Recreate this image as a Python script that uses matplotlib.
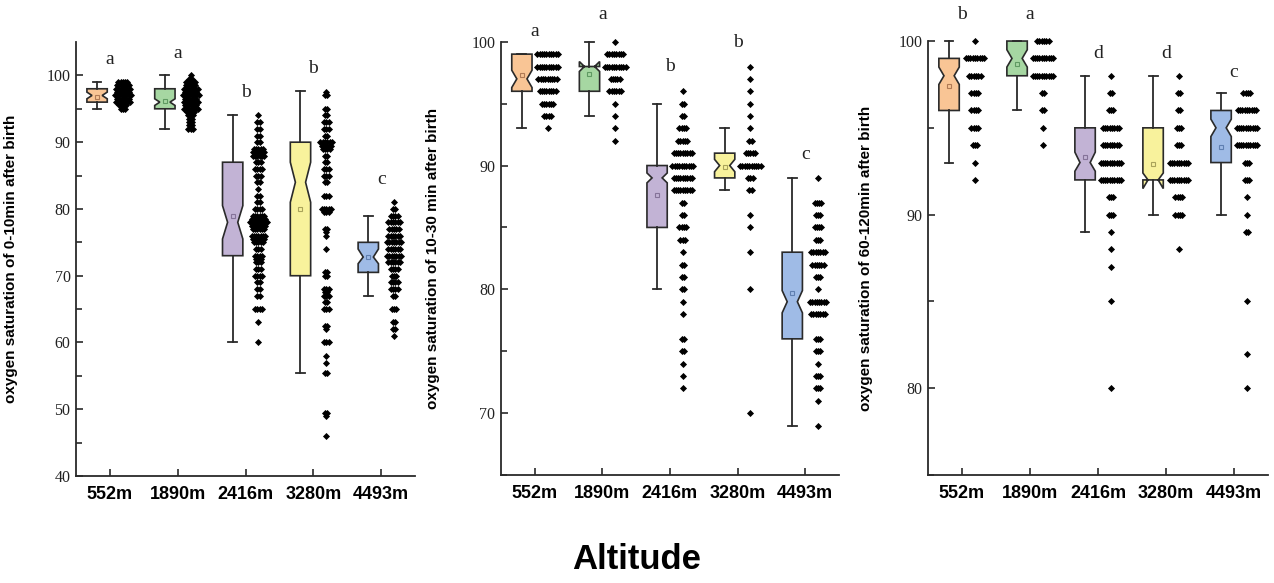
import matplotlib.pyplot as plt
import numpy as np

sites = ["552m", "1890m", "2416m", "3280m", "4493m"]
box_colors = ["#F9C595", "#A6D7A2", "#C2B3D5", "#F8F29C", "#9FBBE6"]
mean_colors = ["#b07a55", "#5f9a62", "#857399", "#a9a35a", "#5f7fb0"]

# ---- panel 1: 0-10 min ----
ylab1 = "oxygen saturation of 0-10min after birth"
med1 = [97, 96, 78, 84, 72.8]
q1_1 = [96, 95, 73, 70, 70.5]
q3_1 = [98, 98, 87, 90, 75]
lo1 = [95, 92, 60, 55.5, 67]
hi1 = [99, 100, 94, 97.6, 79]
mean1 = [96.8, 96.2, 78.9, 80, 72.8]
cilo1 = [96.5, 95.5, 75.5, 81, 71.8]
cihi1 = [97.5, 96.5, 80.5, 87, 74]
letters1 = ["a", "a", "b", "b", "c"]
lety1 = [102.4, 103.3, 97.5, 101, 84.4]
pv1 = [
    [99, 98.5, 98, 97.5, 97, 96.5, 96, 95.5, 95],
    [100, 99.5, 99, 98.5, 98, 97.5, 97, 96.5, 96, 95.5, 95, 94.5, 94, 93.5, 93, 92.5, 92],
    [94, 93, 92, 91, 90, 89, 88.5, 88, 87, 86, 85, 84, 83, 82, 81, 80, 79, 78.5, 78, 77.5, 77,
     76, 75.5, 75, 74, 73, 72.5, 72, 71, 70, 69, 68, 67, 65, 63, 60],
    [97.5, 97, 95, 94, 93, 92, 91, 90, 89.5, 89, 88, 87, 86, 85, 84, 82, 80, 79.5, 77, 76.5, 76,
     74, 70.5, 70, 68, 67.5, 67, 66, 65, 62.5, 62, 60, 58, 57, 55.5, 49.5, 49, 46],
    [81, 80, 79, 78, 77, 76, 75, 74, 73, 72, 71, 70, 69, 68, 67, 65, 63, 62, 61],
]
pc1 = [
    [5, 6, 7, 6, 8, 6, 7, 4, 3],
    [1, 2, 5, 5, 7, 6, 8, 6, 7, 6, 7, 4, 3, 2, 2, 2, 3],
    [1, 2, 2, 2, 2, 5, 6, 6, 3, 4, 3, 2, 1, 2, 2, 4, 6, 7, 8, 7, 6,
     7, 6, 5, 3, 4, 3, 3, 3, 4, 2, 2, 2, 4, 1, 1],
    [1, 2, 2, 2, 3, 3, 2, 6, 5, 4, 2, 2, 3, 3, 2, 3, 5, 3, 2, 1, 1,
     1, 2, 2, 3, 2, 3, 2, 3, 2, 1, 3, 1, 1, 2, 2, 1, 1],
    [1, 2, 4, 6, 5, 6, 7, 6, 7, 6, 4, 3, 4, 4, 2, 3, 2, 2, 1],
]

# ---- panel 2: 10-30 min ----
ylab2 = "oxygen saturation of 10-30 min after birth"
med2 = [97, 98, 89, 90, 79]
q1_2 = [96, 96, 85, 89, 76]
q3_2 = [99, 98, 90, 91, 83]
lo2 = [93, 94, 80, 88, 69]
hi2 = [99, 100, 95, 93, 89]
mean2 = [97.3, 97.4, 87.6, 89.9, 79.7]
cilo2 = [96.3, 97.6, 88.6, 89.5, 78.1]
cihi2 = [97.7, 98.4, 89.4, 90.5, 79.9]
letters2 = ["a", "a", "b", "b", "c"]
lety2 = [100.8, 102.2, 98, 99.9, 90.9]
pv2 = [
    [99, 98, 97, 96, 95, 94, 93],
    [100, 99, 98, 97, 96, 95, 94, 93, 92],
    [96, 95, 94, 93, 92, 91, 90, 89, 88, 87, 86, 85, 84, 83, 82, 81, 80, 79, 78, 76, 75, 74, 73, 72],
    [98, 97, 96, 95, 94, 93, 92, 91, 90, 89, 88, 86, 85, 83, 80, 70],
    [89, 87, 86, 85, 84, 83, 82, 81, 80, 79, 78, 76, 75, 74, 73, 72, 71, 69],
]
pc2 = [
    [10, 10, 9, 8, 6, 4, 1],
    [1, 8, 10, 5, 6, 1, 1, 1, 1],
    [1, 2, 2, 4, 5, 9, 10, 9, 9, 2, 2, 4, 3, 1, 2, 2, 2, 1, 1, 2, 2, 1, 1, 1],
    [1, 1, 1, 1, 1, 1, 2, 5, 10, 3, 2, 1, 1, 1, 1, 1],
    [1, 4, 3, 4, 3, 7, 6, 3, 1, 8, 7, 3, 3, 1, 3, 3, 1, 1],
]

# ---- panel 3: 60-120 min ----
ylab3 = "oxygen saturation of 60-120min after birth"
med3 = [98, 99, 93, 92, 95]
q1_3 = [96, 98, 92, 92, 93]
q3_3 = [99, 100, 95, 95, 96]
lo3 = [93, 96, 89, 90, 90]
hi3 = [100, 100, 98, 98, 97]
mean3 = [97.4, 98.7, 93.3, 92.9, 93.9]
cilo3 = [97.5, 98.5, 92.5, 91.5, 94.5]
cihi3 = [98.5, 99.5, 93.6, 92.4, 95.5]
letters3 = ["b", "a", "d", "d", "c"]
lety3 = [101.55, 101.55, 99.3, 99.3, 98.2]
pv3 = [
    [100, 99, 98, 97, 96, 95, 94, 93, 92],
    [100, 99, 98, 97, 96, 95, 94],
    [98, 97, 96, 95, 94, 93, 92, 91, 90, 89, 88, 87, 85, 80],
    [98, 97, 96, 95, 94, 93, 92, 91, 90, 88],
    [97, 96, 95, 94, 93, 92, 91, 90, 89, 85, 82, 80],
]
pc3 = [
    [1, 9, 6, 4, 4, 4, 3, 1, 1],
    [6, 10, 10, 2, 2, 1, 1],
    [1, 2, 3, 8, 8, 10, 10, 3, 3, 1, 1, 1, 1, 1],
    [1, 2, 2, 3, 3, 9, 9, 4, 4, 1],
    [4, 9, 10, 10, 3, 3, 1, 1, 2, 1, 1, 1],
]

plt.rcParams['font.family'] = ['Liberation Sans', 'DejaVu Sans']

fig = plt.figure(figsize=(12.74, 5.83), dpi=100)
rects = [[0.0597, 0.1835, 0.2661, 0.7444],
         [0.3932, 0.1852, 0.2653, 0.7432],
         [0.7284, 0.1852, 0.2669, 0.7444]]
panels = [
    (ylab1, med1, q1_1, q3_1, lo1, hi1, mean1, cilo1, cihi1, letters1, lety1, pv1, pc1, (40, 105), np.arange(40, 101, 10), -0.171),
    (ylab2, med2, q1_2, q3_2, lo2, hi2, mean2, cilo2, cihi2, letters2, lety2, pv2, pc2, (65, 100), np.arange(70, 101, 10), -0.18),
    (ylab3, med3, q1_3, q3_3, lo3, hi3, mean3, cilo3, cihi3, letters3, lety3, pv3, pc3, (75, 100), np.arange(80, 101, 10), -0.162),
]

pos = np.arange(1, 6)
for rect, p in zip(rects, panels):
    (ylab, med, q1, q3, lo, hi, mn, cilo, cihi, letters, lety, pv, pc, ylim, yt, labx) = p
    ax = fig.add_axes(rect)
    stats = []
    for i in range(5):
        stats.append(dict(med=med[i], q1=q1[i], q3=q3[i], whislo=lo[i], whishi=hi[i],
                          mean=mn[i], cilo=cilo[i], cihi=cihi[i], fliers=[]))
    bp = ax.bxp(stats, positions=pos - 0.19, widths=0.3, shownotches=True, showmeans=True,
                showfliers=False, patch_artist=True, capwidths=0.13,
                boxprops=dict(edgecolor="#2a2a2a", linewidth=1.2),
                whiskerprops=dict(color="#2a2a2a", linewidth=1.3),
                capprops=dict(color="#2a2a2a", linewidth=1.3),
                medianprops=dict(linewidth=0),
                meanprops=dict(marker="s", markersize=3.5, markerfacecolor="none",
                               markeredgewidth=0.8))
    for patch, c in zip(bp['boxes'], box_colors):
        patch.set_facecolor(c)
    for m, c in zip(bp['means'], mean_colors):
        m.set_markeredgecolor(c)
    for a in bp['whiskers'] + bp['caps'] + bp['boxes'] + bp['means']:
        a.set_clip_on(False)

    # distribution points beside each box
    dx = 0.034
    for i in range(5):
        xs, ys = [], []
        for v, n in zip(pv[i], pc[i]):
            xs.extend(pos[i] + 0.19 + (np.arange(n) - (n - 1) / 2) * dx)
            ys.extend([v] * n)
        ax.scatter(xs, ys, marker="D", s=13, color="black", linewidths=0, clip_on=False, zorder=3)

    for i in range(5):
        ax.text(pos[i], lety[i], letters[i], ha="center", va="center", fontsize=14,
                family="Liberation Serif", color="#222222")

    ax.set_xlim(0.5, 5.5)
    ax.set_ylim(*ylim)
    ax.set_xticks(pos)
    ax.set_xticklabels(sites, fontsize=13, fontweight="bold")
    ax.set_yticks(yt)
    ax.set_yticks(np.arange(ylim[0] + 5 if ylim[0] % 10 == 0 else ylim[0], ylim[1], 10), minor=True)
    for lab in ax.get_yticklabels():
        lab.set_family("Liberation Serif")
        lab.set_fontsize(11.5)
        lab.set_color("#222222")
    ax.tick_params(axis="both", which="both", direction="in", width=1.2, color="#2a2a2a")
    ax.tick_params(axis="y", which="major", length=5, pad=4)
    ax.tick_params(axis="y", which="minor", length=4)
    ax.tick_params(axis="x", length=5, pad=7)
    for s in ["top", "right"]:
        ax.spines[s].set_visible(False)
    for s in ["left", "bottom"]:
        ax.spines[s].set_linewidth(1.3)
        ax.spines[s].set_color("#2a2a2a")
    ax.set_ylabel(ylab, fontsize=11, fontweight="bold")
    ax.yaxis.set_label_coords(labx, 0.5)

fig.text(0.5, 0.04, "Altitude", ha="center", va="center", fontsize=25, fontweight="bold")

fig.savefig("out.png", dpi=100)
